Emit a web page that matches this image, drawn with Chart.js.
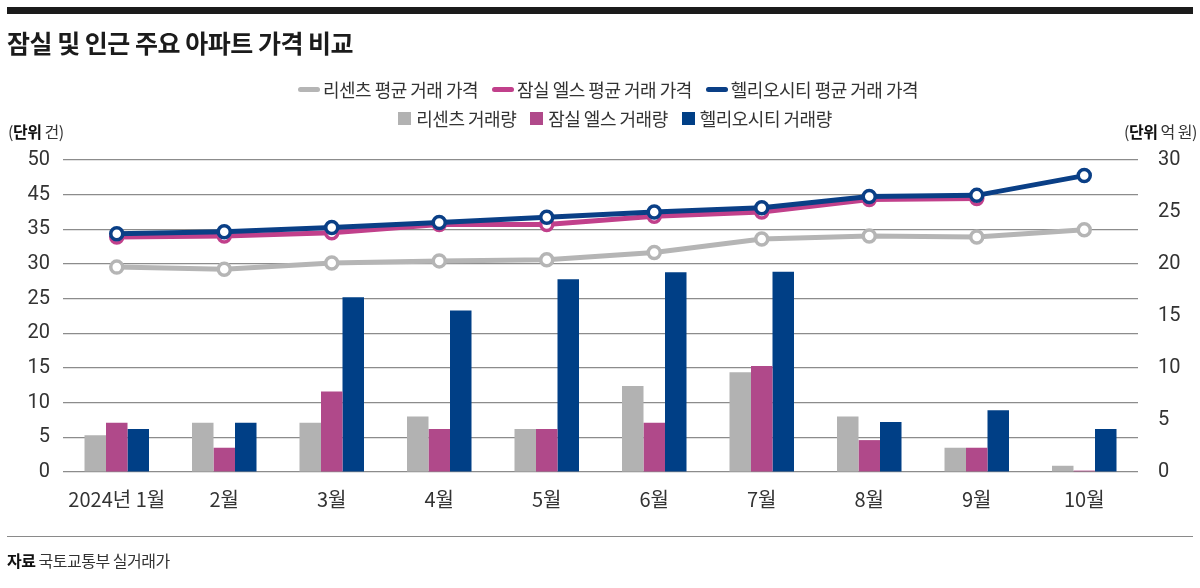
<!DOCTYPE html>
<html>
<head>
<meta charset="utf-8">
<script src="https://cdn.jsdelivr.net/npm/chart.js@4.4.1/dist/chart.umd.min.js"></script>
<style>
html,body{margin:0;padding:0;background:#fff;}
#wrap{position:relative;width:1200px;height:588px;overflow:hidden;font-family:"Noto Sans CJK KR","Noto Sans",sans-serif;color:#222;}
#chartBox{position:absolute;left:0;top:0;width:1200px;height:588px;}
#topbar{position:absolute;left:7px;top:7px;width:1186px;height:7px;background:#1b1b1b;}
#title{position:absolute;left:7px;top:26px;font-size:25px;font-weight:700;letter-spacing:-0.5px;line-height:32px;color:#1b1b1b;}
.legrow{position:absolute;left:0;display:flex;justify-content:center;align-items:center;font-size:18px;letter-spacing:-0.5px;white-space:nowrap;line-height:22px;color:#333;}
.item{display:flex;align-items:center;margin-right:14px;}
.item:last-child{margin-right:0;}
.ln{display:inline-block;width:22px;height:5px;border-radius:3px;margin-right:3px;}
.sq{display:inline-block;width:13px;height:13px;margin-right:5px;}
.unit{position:absolute;top:120px;font-size:16px;letter-spacing:-0.5px;color:#333;line-height:22px;}
.unit b{color:#111;}
#footline{position:absolute;left:7px;top:536px;width:1186px;height:1px;background:#8a8a8a;}
#source{position:absolute;left:7px;top:549px;font-size:16px;letter-spacing:-0.5px;color:#333;line-height:22px;}
#source b{color:#111;}
</style>
</head>
<body>
<div id="wrap">
  <div id="chartBox"><canvas id="c" width="1200" height="588"></canvas></div>
  <div id="topbar"></div>
  <div id="title">잠실 및 인근 주요 아파트 가격 비교</div>
  <div class="legrow" id="leg1" style="width:1216px;top:78px;"></div>
  <div class="legrow" id="leg2" style="width:1230px;top:107px;"></div>
  <div class="unit" style="left:8px;">(<b>단위</b> 건)</div>
  <div class="unit" style="right:3px;">(<b>단위</b> 억 원)</div>
  <div id="footline"></div>
  <div id="source"><b>자료</b> 국토교통부 실거래가</div>
</div>
<script>
// ---- data ----
const MONTHS = ['2024년 1월','2월','3월','4월','5월','6월','7월','8월','9월','10월'];
const RECENTS_PRICE = [19.7, 19.5, 20.1, 20.3, 20.4, 21.1, 22.4, 22.7, 22.6, 23.3];
const ELS_PRICE     = [22.6, 22.7, 23.0, 23.8, 23.8, 24.6, 25.0, 26.2, 26.3, null];
const HELIO_PRICE   = [22.9, 23.1, 23.5, 24.0, 24.5, 25.0, 25.4, 26.5, 26.6, 28.5];
const RECENTS_VOL = [5.3, 7.1, 7.1, 8.0, 6.2, 12.4, 14.4, 8.0, 3.5, 0.9];
const ELS_VOL     = [7.1, 3.5, 11.6, 6.2, 6.2, 7.1, 15.3, 4.6, 3.5, 0.2];
const HELIO_VOL   = [6.2, 7.1, 25.2, 23.3, 27.8, 28.8, 28.9, 7.2, 8.9, 6.2];
const LEFT_TICK_LABELS  = ['0','5','10','15','20','25','30','35','45','50'];
const RIGHT_TICK_LABELS = ['0','5','10','15','20','25','30'];
const LINE_LABELS = ['리센츠 평균 거래 가격','잠실 엘스 평균 거래 가격','헬리오시티 평균 거래 가격'];
const BAR_LABELS  = ['리센츠 거래량','잠실 엘스 거래량','헬리오시티 거래량'];

const GRAY = '#b2b2b2', PINK = '#b0498a', BLUE = '#003f86';
const LGRAY = '#b5b5b5', LPINK = '#c1408b', LBLUE = '#0a3f86';

// ---- legend (HTML text) ----
function addLegend(id, labels, colors, cls){
  const row = document.getElementById(id);
  labels.forEach((t,i)=>{
    const it = document.createElement('span'); it.className='item';
    const m = document.createElement('span'); m.className=cls; m.style.background=colors[i];
    const tx = document.createElement('span'); tx.textContent=t;
    it.appendChild(m); it.appendChild(tx); row.appendChild(it);
  });
}
addLegend('leg1', LINE_LABELS, [LGRAY,LPINK,LBLUE], 'ln');
addLegend('leg2', BAR_LABELS, [GRAY,PINK,BLUE], 'sq');

// ---- chart ----
const lineDs = (label, data, color, order) => ({
  type:'line', label, data, yAxisID:'yR', order,
  borderColor:color, borderWidth:5, backgroundColor:color,
  pointRadius:6, pointBorderWidth:3.5, pointBackgroundColor:'#fff', pointBorderColor:color,
  tension:0, spanGaps:false
});
const barDs = (label, data, color) => ({
  type:'bar', label, data, yAxisID:'yL', order:10,
  backgroundColor:color, borderWidth:0,
  categoryPercentage:0.6, barPercentage:1.0
});

new Chart(document.getElementById('c'), {
  data:{
    labels: MONTHS,
    datasets:[
      barDs(BAR_LABELS[0], RECENTS_VOL, GRAY),
      barDs(BAR_LABELS[1], ELS_VOL, PINK),
      barDs(BAR_LABELS[2], HELIO_VOL, BLUE),
      lineDs(LINE_LABELS[0], RECENTS_PRICE, LGRAY, 3),
      lineDs(LINE_LABELS[1], ELS_PRICE, LPINK, 2),
      lineDs(LINE_LABELS[2], HELIO_PRICE, LBLUE, 1)
    ]
  },
  options:{
    responsive:false, animation:false,
    layout:{padding:{top:160, bottom:76, left:0, right:0}},
    plugins:{legend:{display:false}, tooltip:{enabled:false}, title:{display:false}},
    scales:{
      x:{
        offset:true,
        grid:{display:false, drawTicks:false},
        border:{display:false},
        ticks:{padding:15, color:'#333', font:{family:'"Noto Sans CJK KR"', size:20}, maxRotation:0, autoSkip:false},
        afterFit(s){ s.height = 40; }
      },
      yL:{
        position:'left', min:0, max:45,
        grid:{color:'#8c8c8c', lineWidth:1.2, drawTicks:false},
        border:{display:false},
        ticks:{stepSize:5, padding:13, color:'#333', font:{family:'Roboto', size:20},
          callback:(v,i)=>LEFT_TICK_LABELS[i]},
        afterFit(s){ s.width = 63; }
      },
      yR:{
        position:'right', min:0, max:30,
        grid:{display:false, drawTicks:false},
        border:{display:false},
        ticks:{stepSize:5, padding:20, color:'#333', font:{family:'Roboto', size:20},
          callback:(v,i)=>RIGHT_TICK_LABELS[i]},
        afterFit(s){ s.width = 62; }
      }
    }
  }
});
</script>
</body>
</html>
